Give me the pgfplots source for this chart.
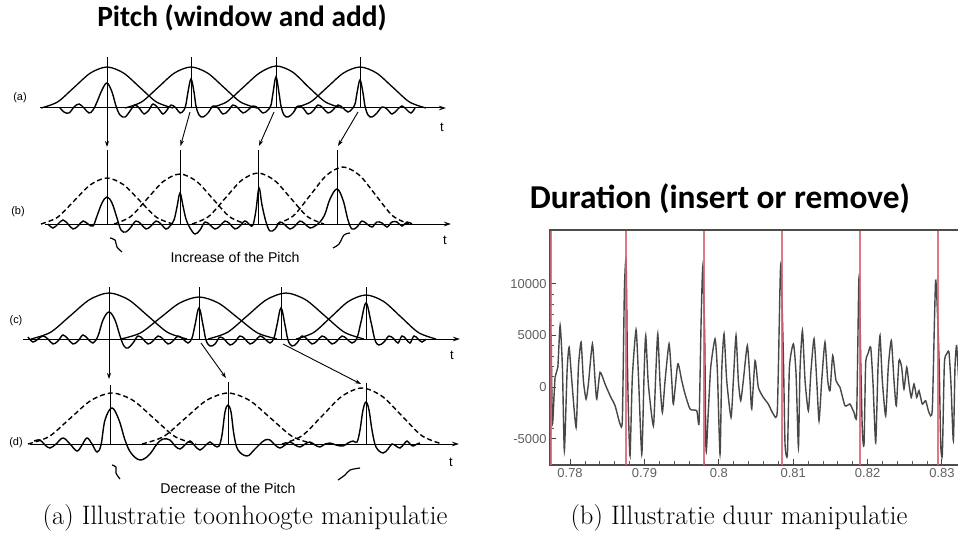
\documentclass[border=0pt]{standalone}
\usepackage{fontspec}
\usepackage{pgfplots}
\pgfplotsset{compat=1.18}
\usetikzlibrary{arrows.meta}
\newfontfamily\carlito{Carlito}
\newfontfamily\lsans{Liberation Sans}
\definecolor{redline}{RGB}{214,100,115}
\definecolor{tickgray}{RGB}{95,95,95}
\tikzset{
  sig/.style={black, line width=1.4bp, smooth, tension=0.6},
  bell/.style={black, line width=1.3bp, smooth},
  dbell/.style={black, line width=1.4bp, smooth, dash pattern=on 5bp off 3bp},
  vline/.style={black, line width=1bp},
  axl/.style={black, line width=1bp, -{Stealth[length=7bp,width=4.5bp]}},
  arr/.style={black, line width=0.9bp, -{Stealth[length=6bp,width=4bp]}},
  squig/.style={black, line width=1.2bp, smooth},
  lab/.style={font=\lsans\fontsize{11}{13}\selectfont},
  tlab/.style={font=\lsans\fontsize{13}{15}\selectfont},
  sub/.style={font=\lsans\fontsize{14.2}{16}\selectfont},
}
\begin{document}
\begin{tikzpicture}
\begin{axis}[at={(0,0)}, anchor=south west, width=958bp, height=551bp, scale only axis,
  xmin=0, xmax=958, ymin=0, ymax=551, y dir=reverse, hide axis, clip=false]
% ---------------- titles and captions
\node[font=\carlito\bfseries\fontsize{29.5}{34}\selectfont, anchor=base] at (242,27) {Pitch (window and add)};
\node[font=\carlito\bfseries\fontsize{33.5}{38}\selectfont, anchor=base] at (720,208) {Duration (insert or remove)};
\node[font=\fontsize{26.8}{31}\selectfont, anchor=base] at (245,524) {(a) Illustratie toonhoogte manipulatie};
\node[font=\fontsize{26.8}{31}\selectfont, anchor=base] at (739,524) {(b) Illustratie duur manipulatie};
% ---------------- panel (a)
\addplot[axl] coordinates {(40,108) (446,108)};
\addplot[bell] coordinates {(41,108)(57.5,102)(74,87.5)(90.5,73)(107,67)(123.5,73)(140,87.5)(156.5,102)(173,108)};
\addplot[bell] coordinates {(125,108)(141.5,102)(158,87.5)(174.5,73)(191,67)(207.5,73)(224,87.5)(240.5,102)(257,108)};
\addplot[bell] coordinates {(210,108)(226.5,102)(243,87.5)(259.5,73)(276,66)(292.5,72)(309,87.5)(325.5,102)(342,108)};
\addplot[bell] coordinates {(294,108)(310.5,102)(327,87.5)(343.5,73)(360,67)(376.5,73)(393,87.5)(409.5,102)(426,108)};
\addplot[sig] coordinates {(60,108)(64,112)(69,113)(74,107)(79,104)(84,108)(89,113)(93,110)(97,102)(102,90)(107,83)(112,92)(116,106)(120,115)(125,117)(130,111)(135,105)(140,109)(144,114)(149,110)(153,104)(158,108)(163,114)(167,110)(171,105)(176,108)(180,113)(184,110)(186,104)(188,92)(191,79)(194,92)(196,106)(199,115)(203,117)(208,113)(213,106)(218,108)(223,114)(228,111)(233,105)(238,108)(243,113)(248,110)(253,106)(258,108)(263,113)(268,110)(271,105)(273,93)(276,77)(279,93)(281,106)(284,115)(288,117)(293,113)(298,106)(303,108)(308,114)(313,111)(318,105)(323,108)(328,113)(333,110)(338,105)(343,108)(348,112)(352,109)(355,104)(357,93)(360,80)(363,93)(365,106)(368,115)(372,117)(377,113)(382,107)(387,109)(392,114)(397,110)(402,106)(407,110)(411,113)(415,108)};
\addplot[vline] coordinates {(107,57)(107,108)};
\addplot[vline] coordinates {(191,57)(191,108)};
\addplot[vline] coordinates {(276,57)(276,108)};
\addplot[vline] coordinates {(360,57)(360,108)};
\addplot[arr] coordinates {(107,108)(107,147)};
\addplot[arr] coordinates {(190,112)(180.5,146)};
\addplot[arr] coordinates {(274,112)(259,146)};
\addplot[arr] coordinates {(358,112)(338,146)};
\node[lab] at (20,98) {(a)};
\node[tlab] at (442,127) {t};
% ---------------- panel (b)
\addplot[axl] coordinates {(45,224) (451,224)};
\addplot[dbell] coordinates {(41,224)(57.5,217.3)(74,201)(90.5,184.7)(107,178)(123.5,184.7)(140,201)(156.5,217.3)(173,224)};
\addplot[dbell] coordinates {(114,224)(130.5,216.7)(147,199)(163.5,181.3)(180,174)(196.5,181.3)(213,199)(229.5,216.7)(246,224)};
\addplot[dbell] coordinates {(192,224)(208.5,216.6)(225,198.5)(241.5,180.4)(258,173)(274.5,180.4)(291,198.5)(307.5,216.6)(324,224)};
\addplot[dbell] coordinates {(277,224)(293.5,215.7)(310,195.5)(326.5,175.3)(343,167)(359.5,175.3)(376,195.5)(392.5,215.7)(409,224)};
\addplot[sig] coordinates {(48,224)(53,228)(58,224)(63,220)(68,224)(73,229)(78,226)(83,221)(88,224)(93,226)(97,216)(102,203)(107,197)(112,203)(117,218)(121,230)(126,232)(131,227)(136,221)(141,224)(146,229)(151,226)(156,221)(161,224)(166,229)(170,226)(174,220)(177,207)(180,193)(183,206)(186,219)(190,228)(195,234)(200,230)(205,222)(210,225)(215,229)(220,226)(225,221)(230,224)(235,229)(240,226)(245,221)(250,225)(253,225)(256,210)(259,188)(262,205)(266,222)(270,231)(275,229)(280,222)(285,225)(290,229)(295,226)(300,221)(305,224)(310,228)(315,226)(320,222)(325,214)(330,199)(337,189)(343,200)(348,220)(352,229)(357,227)(362,221)(367,224)(372,227)(377,222)(382,223)(387,227)(392,222)(397,222)(402,226)(407,222)(412,224)};
\addplot[vline] coordinates {(107,150)(107,224)};
\addplot[vline] coordinates {(180,150)(180,224)};
\addplot[vline] coordinates {(258,150)(258,224)};
\addplot[vline] coordinates {(337,150)(337,224)};
\addplot[squig] coordinates {(110,238)(115,240)(117,247)(122,252)};
\addplot[squig] coordinates {(333,248)(339,244)(344,235)(350,233)};
\node[lab] at (18,212) {(b)};
\node[tlab] at (445,240) {t};
\node[sub] at (235,257) {Increase of the Pitch};
% ---------------- panel (c)
\addplot[axl] coordinates {(23,339) (460,339)};
\addplot[bell] coordinates {(31,339)(50.5,332.3)(70,316)(89.5,299.7)(109,293)(128.5,299.7)(148,316)(167.5,332.3)(187,339)};
\addplot[bell] coordinates {(121,339)(140.5,332.9)(160,318)(179.5,303.1)(199,297)(218.5,303.1)(238,318)(257.5,332.9)(277,339)};
\addplot[bell] coordinates {(208,339)(227.5,332.3)(247,316)(266.5,299.7)(286,293)(305.5,299.7)(325,316)(344.5,332.3)(364,339)};
\addplot[bell] coordinates {(296,339)(313.5,332.6)(331,317)(348.5,301.4)(366,295)(383.5,301.4)(401,317)(418.5,332.6)(436,339)};
\addplot[sig] coordinates {(28,337)(33,342)(38,339)(43,336)(48,339)(53,344)(58,341)(63,335)(68,339)(73,344)(78,341)(83,335)(88,339)(93,343)(98,336)(103,320)(109,312)(115,320)(120,336)(124,346)(128,348)(133,343)(138,336)(143,339)(148,344)(153,341)(158,336)(163,339)(168,344)(173,341)(178,336)(183,339)(188,343)(192,338)(195,325)(199,308)(203,325)(206,340)(210,346)(215,344)(220,337)(225,340)(230,345)(235,342)(240,336)(245,339)(250,344)(255,341)(260,336)(265,339)(270,343)(274,338)(277,325)(281,308)(285,325)(288,340)(292,346)(297,343)(302,336)(307,339)(312,344)(317,341)(322,336)(327,339)(332,344)(337,341)(342,336)(347,339)(352,343)(357,338)(361,322)(366,303)(371,322)(375,340)(379,345)(384,342)(389,336)(394,339)(398,343)(402,336)(406,339)(410,343)(414,336)(418,339)(422,342)(426,339)};
\addplot[vline] coordinates {(109,287)(109,339)};
\addplot[vline] coordinates {(199,287)(199,339)};
\addplot[vline] coordinates {(281,287)(281,339)};
\addplot[vline] coordinates {(366,287)(366,339)};
\addplot[arr] coordinates {(109,339)(109,379)};
\addplot[arr] coordinates {(201,343)(226,378)};
\addplot[arr] coordinates {(283,344)(361,384)};
\node[lab] at (16,321) {(c)};
\node[tlab] at (452,355) {t};
% ---------------- panel (d)
\addplot[axl] coordinates {(30,444) (459,444)};
\addplot[dbell] coordinates {(28,444)(49,436.6)(70,418.5)(91,400.4)(112,393)(133,400.4)(154,418.5)(175,436.6)(196,444)};
\addplot[dbell] coordinates {(142,444)(163.5,436.6)(185,418.5)(206.5,400.4)(228,393)(249.5,400.4)(271,418.5)(292.5,436.6)(314,444)};
\addplot[dbell] coordinates {(282,444)(302,435.8)(322,416)(342,396.2)(362,388)(382,396.2)(402,416)(422,435.8)(442,444)};
\addplot[sig] coordinates {(34,441)(40,440)(45,445)(50,448)(56,444)(63,438)(70,444)(77,451)(82,445)(87,438)(92,444)(97,452)(101,445)(105,420)(112,408)(119,420)(125,440)(131,453)(140,460)(149,455)(157,444)(163,439)(170,440)(175,446)(180,449)(185,445)(190,441)(195,446)(200,450)(205,446)(210,442)(215,446)(219,446)(222,435)(225,412)(228,405)(231,412)(234,435)(238,450)(247,456)(254,450)(260,444)(265,440)(270,440)(275,445)(280,448)(285,445)(290,442)(295,445)(300,447)(305,444)(310,442)(315,445)(320,447)(325,444)(330,443)(336,445)(343,446)(348,443)(353,441)(357,442)(360,430)(363,410)(366,402)(369,410)(372,430)(376,447)(383,453)(388,449)(392,444)(396,446)(400,448)(404,444)(407,441)(410,444)(413,446)(417,444)(420,443)};
\addplot[vline] coordinates {(110,385)(110,444)};
\addplot[vline] coordinates {(228,382)(228,444)};
\addplot[vline] coordinates {(366,383)(366,444)};
\addplot[squig] coordinates {(112,465)(116,467)(116,473)(120,479)};
\addplot[squig] coordinates {(338,480)(345,475)(350,470)(360,468)};
\node[lab] at (16,443) {(d)};
\node[tlab] at (451,462) {t};
\node[sub] at (228,488) {Decrease of the Pitch};
\end{axis}
% ================= waveform
\begin{axis}[at={(550bp,86bp)}, anchor=south west, width=418bp, height=235bp, scale only axis,
  xmin=0.7773, xmax=0.8335, ymin=-7550, ymax=15200,
  xtick={0.78,0.79,0.80,0.81,0.82,0.83}, ytick={-5000,0,5000,10000},
  minor x tick num=4, minor y tick num=4,
  tick align=inside, xtick pos=bottom, ytick pos=left,
  major tick length=6bp, minor tick length=3.5bp,
  scaled x ticks=false, scaled y ticks=false,
  /pgf/number format/assume math mode=true,
  /pgf/number format/1000 sep={},
  tick label style={font=\lsans\fontsize{13}{15}\selectfont, text=tickgray},
  major tick style={black!75, line width=1bp},
  minor tick style={black!65, line width=0.9bp},
  axis line style={black!70, line width=1.3bp}]
\addplot[black!72, line width=1.4bp, smooth, tension=0.35] coordinates {
(0.77740,-2000)(0.77745,5146)(0.77762,-3592)(0.77798,939)(0.77835,1910)(0.77866,5955)(0.77897,1910)(0.77923,-6182)(0.77960,1586)(0.77987,3851)(0.78023,615)(0.78081,-3916)(0.78112,1910)(0.78148,4336)(0.78179,615)(0.78215,-1165)(0.78246,291)(0.78300,4175)(0.78336,615)(0.78359,-1165)(0.78403,1424)(0.78470,291)(0.78538,-841)(0.78605,-1812)(0.78672,-3592)(0.78703,-3107)(0.78730,9353)(0.78753,12268)
(0.78770,2880)(0.78784,-2298)(0.78806,-6668)(0.78837,939)(0.78887,5534)(0.78918,1262)(0.78964,-6505)(0.78995,1262)(0.79017,4984)(0.79052,291)(0.79120,-3754)(0.79152,1262)(0.79179,5146)(0.79210,291)(0.79241,-2460)(0.79277,615)(0.79331,4175)(0.79367,615)(0.79389,-1650)(0.79448,2233)(0.79501,615)(0.79546,-680)(0.79613,-2136)(0.79703,-2298)(0.79734,-3430)(0.79761,6117)(0.79784,11620)
(0.79810,4823)(0.79828,-6182)(0.79859,-2298)(0.79891,1910)(0.79949,4660)(0.79980,1586)(0.80016,-6505)(0.80039,1586)(0.80070,5146)(0.80106,615)(0.80164,-2946)(0.80195,615)(0.80231,4984)(0.80262,615)(0.80294,-1327)(0.80329,615)(0.80383,4013)(0.80419,615)(0.80442,-2136)(0.80487,2557)(0.80531,-32)(0.80598,-1003)(0.80665,-1650)(0.80733,-2621)(0.80786,-2298)(0.80823,10000)(0.80836,11620)
(0.80868,2880)(0.80890,-5534)(0.80922,-6505)(0.80949,1910)(0.81003,4175)(0.81038,1262)(0.81070,-5858)(0.81091,1586)(0.81124,5470)(0.81159,615)(0.81204,-2298)(0.81239,1586)(0.81280,4660)(0.81316,615)(0.81347,-3269)(0.81383,615)(0.81427,4336)(0.81464,615)(0.81495,-356)(0.81531,3042)(0.81575,615)(0.81629,-32)(0.81696,-1812)(0.81763,-1650)(0.81817,-2460)(0.81853,-2621)(0.81880,9677)(0.81890,10162)
(0.81907,2880)(0.81929,-4240)(0.81952,-5534)(0.81974,2233)(0.82005,3204)(0.82042,3851)(0.82073,291)(0.82109,-5373)(0.82140,1910)(0.82167,4984)(0.82198,615)(0.82243,-2784)(0.82278,1910)(0.82319,4498)(0.82355,615)(0.82386,-1812)(0.82422,2557)(0.82458,1910)(0.82489,-194)(0.82526,1910)(0.82556,291)(0.82587,-1003)(0.82624,291)(0.82660,-1003)(0.82691,-356)(0.82735,-1650)(0.82781,-1327)(0.82825,-2460)(0.82870,-2136)(0.82915,10323)
(0.82960,2880)(0.82983,-5534)(0.83005,-6505)(0.83032,2233)(0.83063,3204)(0.83094,3366)(0.83121,291)(0.83153,-5211)(0.83175,1910)(0.83197,4000)(0.83228,291)(0.83260,-3000)};
\addplot[redline, line width=1.8bp, opacity=0.85] coordinates {(0.77745,-7550)(0.77745,15200)};
\addplot[redline, line width=1.8bp, opacity=0.85] coordinates {(0.78753,-7550)(0.78753,15200)};
\addplot[redline, line width=1.8bp, opacity=0.85] coordinates {(0.79801,-7550)(0.79801,15200)};
\addplot[redline, line width=1.8bp, opacity=0.85] coordinates {(0.80845,-7550)(0.80845,15200)};
\addplot[redline, line width=1.8bp, opacity=0.85] coordinates {(0.81898,-7550)(0.81898,15200)};
\addplot[redline, line width=1.8bp, opacity=0.85] coordinates {(0.82942,-7550)(0.82942,15200)};
\draw[black!70, line width=1.6bp] (rel axis cs:0,1) -- (rel axis cs:1,1);
\end{axis}
\pgfresetboundingbox
\path[use as bounding box] (0,0) rectangle (958bp,551bp);
\end{tikzpicture}
\end{document}
